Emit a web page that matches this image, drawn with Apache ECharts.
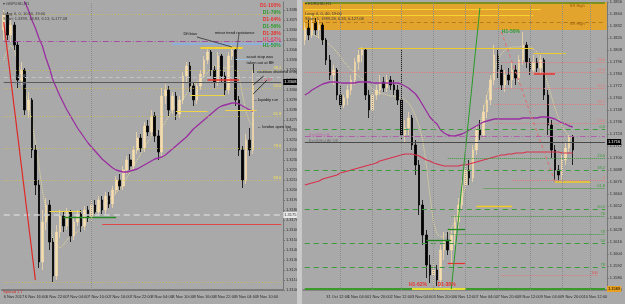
<!DOCTYPE html>
<html><head><meta charset="utf-8">
<script src="https://cdn.jsdelivr.net/npm/echarts/dist/echarts.min.js"></script>
<style>html,body{margin:0;padding:0;background:#a9a9a9;overflow:hidden}#c{width:625px;height:304px}</style>
</head><body><div id="c"></div><script>
// ---------- LEFT PANEL DATA (GBPUSD,H1) ----------
const leftBarCount = 80;
const leftTimeLabels = ['6 Nov 2017','6 Nov 16:00','6 Nov 22:00','7 Nov 04:00','7 Nov 10:00','7 Nov 16:00','7 Nov 22:00','8 Nov 04:00','8 Nov 10:00','8 Nov 16:00','8 Nov 22:00','9 Nov 04:00','9 Nov 10:00','9 Nov 16:00'];
// [open, close, low, high]
const leftCandles = [
[1.3360,1.3375,1.3350,1.3380],[1.3375,1.3355,1.3350,1.3378],[1.3355,1.3365,1.3348,1.3370],[1.3365,1.3345,1.3340,1.3368],
[1.3345,1.3310,1.3302,1.3348],[1.3310,1.3320,1.3305,1.3328],[1.3320,1.3280,1.3275,1.3322],[1.3280,1.3290,1.3272,1.3298],
[1.3290,1.3240,1.3232,1.3292],[1.3240,1.3205,1.3195,1.3245],[1.3205,1.3128,1.3122,1.3210],[1.3128,1.3168,1.3120,1.3180],
[1.3168,1.3185,1.3160,1.3192],[1.3185,1.3148,1.3140,1.3190],[1.3148,1.3114,1.3108,1.3152],[1.3114,1.3158,1.3110,1.3165],
[1.3158,1.3174,1.3152,1.3180],[1.3174,1.3164,1.3158,1.3178],[1.3164,1.3178,1.3160,1.3182],[1.3178,1.3154,1.3148,1.3180],
[1.3154,1.3168,1.3150,1.3172],[1.3168,1.3176,1.3164,1.3180],[1.3176,1.3164,1.3158,1.3180],[1.3164,1.3180,1.3160,1.3184],
[1.3180,1.3172,1.3168,1.3184],[1.3172,1.3185,1.3168,1.3190],[1.3185,1.3178,1.3174,1.3190],[1.3178,1.3190,1.3174,1.3194],
[1.3190,1.3180,1.3176,1.3194],[1.3180,1.3194,1.3176,1.3198],[1.3194,1.3186,1.3182,1.3198],[1.3186,1.3200,1.3182,1.3204],
[1.3200,1.3210,1.3196,1.3214],[1.3210,1.3204,1.3200,1.3216],[1.3204,1.3220,1.3200,1.3224],[1.3220,1.3230,1.3216,1.3234],
[1.3230,1.3224,1.3220,1.3236],[1.3224,1.3240,1.3220,1.3244],[1.3240,1.3252,1.3236,1.3258],[1.3252,1.3242,1.3238,1.3256],
[1.3242,1.3264,1.3238,1.3268],[1.3264,1.3258,1.3254,1.3270],[1.3258,1.3274,1.3254,1.3280],[1.3274,1.3254,1.3248,1.3278],
[1.3254,1.3238,1.3230,1.3260],[1.3238,1.3294,1.3232,1.3302],[1.3294,1.3300,1.3286,1.3306],[1.3300,1.3280,1.3274,1.3304],
[1.3280,1.3294,1.3276,1.3298],[1.3294,1.3276,1.3270,1.3298],[1.3276,1.3290,1.3272,1.3294],[1.3290,1.3314,1.3286,1.3318],
[1.3314,1.3324,1.3308,1.3328],[1.3324,1.3304,1.3298,1.3328],[1.3304,1.3290,1.3284,1.3308],[1.3290,1.3304,1.3286,1.3308],
[1.3304,1.3316,1.3300,1.3320],[1.3316,1.3330,1.3312,1.3334],[1.3330,1.3338,1.3326,1.3342],[1.3338,1.3320,1.3314,1.3340],
[1.3320,1.3308,1.3302,1.3324],[1.3308,1.3334,1.3304,1.3338],[1.3334,1.3314,1.3308,1.3336],[1.3314,1.3300,1.3294,1.3318],
[1.3300,1.3334,1.3296,1.3338],[1.3334,1.3340,1.3330,1.3345],[1.3340,1.3290,1.3284,1.3342],[1.3290,1.3240,1.3234,1.3294],
[1.3240,1.3210,1.3202,1.3244],[1.3210,1.3250,1.3206,1.3256],[1.3250,1.3240,1.3234,1.3262],[1.3240,1.3308,1.3236,1.3320]
];
const leftMA = [null,null,null,null,null,1.3398,1.3388,1.3380,1.3370,1.3362,1.3352,1.3344,1.3332,1.3322,1.3310,1.3302,
1.3294,1.3287,1.3280,1.3274,1.3268,1.3262,1.3257,1.3252,1.3247,1.3243,1.3239,1.3235,1.3231,1.3228,1.3225,1.3222,
1.3220,1.3219,1.3218,1.3218,1.3219,1.3220,1.3221,1.3223,1.3225,1.3227,1.3229,1.3231,1.3232,1.3233,1.3235,1.3238,
1.3241,1.3244,1.3247,1.3250,1.3253,1.3257,1.3261,1.3264,1.3267,1.3270,1.3273,1.3276,1.3279,1.3282,1.3284,1.3285,
1.3286,1.3287,1.3287,1.3286,1.3284,1.3282,1.3280,1.3279];
const leftSmooth = [1.3330,1.3340,1.3345,1.3340,1.3328,1.3315,1.3300,1.3285,1.3268,1.3248,1.3225,1.3200,1.3180,1.3165,
1.3152,1.3145,1.3142,1.3145,1.3150,1.3154,1.3156,1.3158,1.3162,1.3166,1.3170,1.3174,1.3178,1.3182,1.3185,1.3188,
1.3190,1.3193,1.3197,1.3201,1.3206,1.3212,1.3218,1.3224,1.3230,1.3236,1.3242,1.3248,1.3253,1.3257,1.3259,1.3262,
1.3268,1.3274,1.3280,1.3284,1.3287,1.3291,1.3296,1.3302,1.3306,1.3308,1.3310,1.3313,1.3317,1.3322,1.3324,1.3324,
1.3323,1.3322,1.3322,1.3324,1.3323,1.3314,1.3295,1.3278,1.3268,1.3264];
const leftFibLevels = [1.3376,1.3320,1.3302,1.3274,1.3242,1.3210,1.3108];
const leftFibTags = ['','38.2','50.0','61.8','78.6','88.6',''];
const leftCurrentPrice = 1.3308;
const leftWhiteLevel = 1.3175;

// ---------- RIGHT PANEL DATA (EURUSD,H1) ----------
const rightBarCount = 85;
const rightTimeLabels = ['30 Oct 2017','31 Oct 12:00','1 Nov 04:00','1 Nov 20:00','2 Nov 12:00','3 Nov 04:00','3 Nov 20:00','6 Nov 12:00','7 Nov 04:00','7 Nov 20:00','8 Nov 12:00','9 Nov 04:00','9 Nov 20:00','10 Nov 12:00','13 Nov 04:00'];
const rightCandles = [
[1.1818,1.1830,1.1813,1.1836],[1.1830,1.1823,1.1818,1.1838],[1.1823,1.1836,1.1820,1.1843],[1.1836,1.1828,1.1823,1.1840],
[1.1828,1.1833,1.1820,1.1838],[1.1833,1.1818,1.1813,1.1836],[1.1818,1.1798,1.1793,1.1820],[1.1798,1.1783,1.1778,1.1803],
[1.1783,1.1788,1.1773,1.1793],[1.1788,1.1763,1.1758,1.1790],[1.1763,1.1753,1.1748,1.1773],[1.1753,1.1760,1.1750,1.1763],
[1.1760,1.1768,1.1753,1.1773],[1.1768,1.1778,1.1763,1.1783],[1.1778,1.1796,1.1773,1.1800],[1.1796,1.1803,1.1788,1.1808],
[1.1803,1.1808,1.1796,1.1811],[1.1808,1.1763,1.1758,1.1810],[1.1763,1.1748,1.1740,1.1768],[1.1748,1.1763,1.1746,1.1766],
[1.1763,1.1768,1.1758,1.1773],[1.1768,1.1776,1.1763,1.1783],[1.1776,1.1770,1.1766,1.1781],[1.1770,1.1778,1.1766,1.1783],
[1.1778,1.1773,1.1768,1.1782],[1.1773,1.1768,1.1763,1.1778],[1.1768,1.1758,1.1753,1.1773],[1.1758,1.1723,1.1718,1.1810],
[1.1723,1.1730,1.1716,1.1738],[1.1730,1.1740,1.1723,1.1746],[1.1740,1.1713,1.1708,1.1743],[1.1713,1.1693,1.1683,1.1718],
[1.1693,1.1653,1.1643,1.1698],[1.1653,1.1623,1.1613,1.1658],[1.1623,1.1593,1.1580,1.1628],[1.1593,1.1583,1.1575,1.1603],
[1.1583,1.1588,1.1573,1.1596],[1.1588,1.1578,1.1572,1.1593],[1.1578,1.1608,1.1571,1.1613],[1.1608,1.1618,1.1598,1.1626],
[1.1618,1.1608,1.1603,1.1626],[1.1608,1.1623,1.1593,1.1630],[1.1623,1.1636,1.1613,1.1643],[1.1636,1.1653,1.1628,1.1660],
[1.1653,1.1673,1.1648,1.1678],[1.1673,1.1688,1.1668,1.1693],[1.1688,1.1680,1.1673,1.1698],[1.1680,1.1708,1.1676,1.1713],
[1.1708,1.1728,1.1703,1.1733],[1.1728,1.1723,1.1718,1.1738],[1.1723,1.1746,1.1720,1.1753],[1.1746,1.1758,1.1740,1.1763],
[1.1758,1.1778,1.1753,1.1783],[1.1778,1.1803,1.1773,1.1813],[1.1803,1.1788,1.1780,1.1808],[1.1788,1.1773,1.1768,1.1793],
[1.1773,1.1783,1.1766,1.1788],[1.1783,1.1778,1.1773,1.1790],[1.1778,1.1788,1.1770,1.1796],[1.1788,1.1780,1.1773,1.1793],
[1.1780,1.1798,1.1776,1.1803],[1.1798,1.1813,1.1793,1.1826],[1.1813,1.1796,1.1790,1.1816],[1.1796,1.1788,1.1783,1.1800],
[1.1788,1.1796,1.1783,1.1803],[1.1796,1.1790,1.1786,1.1800],[1.1790,1.1798,1.1783,1.1803],[1.1798,1.1763,1.1758,1.1800],
[1.1763,1.1733,1.1723,1.1768],[1.1733,1.1708,1.1700,1.1738],[1.1708,1.1688,1.1678,1.1713],[1.1688,1.1683,1.1676,1.1693],
[1.1683,1.1698,1.1678,1.1703],[1.1698,1.1710,1.1693,1.1716],[1.1710,1.1721,1.1706,1.1723],[1.1721,1.1708,1.1693,1.1723]
];
const rightMA = [1.1763,1.1765,1.1768,1.1770,1.1772,1.1774,1.1775,1.1776,1.1776,1.1776,1.1775,1.1775,1.1775,1.1775,1.1775,
1.1776,1.1776,1.1776,1.1776,1.1775,1.1775,1.1775,1.1775,1.1775,1.1775,1.1775,1.1775,1.1774,1.1772,1.1770,1.1767,1.1764,
1.1759,1.1753,1.1747,1.1741,1.1737,1.1734,1.1728,1.1725,1.1723,1.1722,1.1722,1.1723,1.1724,1.1726,1.1728,1.1730,1.1732,
1.1734,1.1736,1.1737,1.1738,1.1739,1.1739,1.1739,1.1739,1.1739,1.1739,1.1739,1.1739,1.1740,1.1740,1.1740,1.1740,1.1740,
1.1741,1.1741,1.1741,1.1740,1.1739,1.1737,1.1735,1.1734,1.1732,1.1731];
const rightSlowMA = [1.1673,1.1674,1.1675,1.1676,1.1677,1.1679,1.1680,1.1681,1.1682,1.1683,1.1685,1.1686,1.1687,1.1688,
1.1689,1.1690,1.1691,1.1692,1.1693,1.1694,1.1695,1.1697,1.1698,1.1699,1.1700,1.1701,1.1702,1.1703,1.1704,1.1704,1.1704,
1.1703,1.1702,1.1700,1.1698,1.1697,1.1695,1.1694,1.1693,1.1692,1.1692,1.1692,1.1692,1.1692,1.1693,1.1693,1.1694,1.1695,
1.1696,1.1697,1.1698,1.1699,1.1700,1.1701,1.1702,1.1703,1.1703,1.1704,1.1704,1.1705,1.1705,1.1705,1.1706,1.1706,1.1706,
1.1706,1.1706,1.1706,1.1706,1.1706,1.1706,1.1706,1.1705,1.1705,1.1705,1.1705];
const rightSmooth = [1.1823,1.1824,1.1824,1.1822,1.1820,1.1818,1.1816,1.1813,1.1810,1.1806,1.1801,1.1796,1.1792,1.1788,
1.1785,1.1782,1.1779,1.1776,1.1772,1.1769,1.1767,1.1765,1.1764,1.1763,1.1762,1.1762,1.1761,1.1760,1.1758,1.1755,1.1750,
1.1742,1.1732,1.1718,1.1693,1.1663,1.1636,1.1624,1.1621,1.1622,1.1625,1.1630,1.1636,1.1646,1.1658,1.1673,1.1688,1.1703,
1.1718,1.1733,1.1748,1.1763,1.1776,1.1788,1.1798,1.1804,1.1808,1.1810,1.1811,1.1811,1.1811,1.1812,1.1812,1.1811,1.1809,
1.1806,1.1796,1.1786,1.1774,1.1762,1.1750,1.1740,1.1732,1.1726,1.1722,1.1719];
const rightBand = [1.1856,1.1828];
const rightCurrentPrice = 1.1716;
const rightLowLevel = 1.1569;
const rightGridIdx = [10,19,27,36,45,54,63,72,80];

// ---------- helpers (styles only) ----------
const F = 'Liberation Sans';
const LL = leftBarCount - 1, RL = rightBarCount - 1;
const noLbl = {show:false};
function tagLbl(t,c){return t?{show:true,position:'insideEndTop',formatter:t,color:c,fontSize:4,distance:0,fontFamily:F}:noLbl;}
function hSeg(p,a,b,color,type,width,tag,tc){return [{coord:[a,p],lineStyle:{color,type,width},label:tagLbl(tag,tc||color)},{coord:[b,p]}];}
function seg2(a,pa,b,pb,color,type,width){return [{coord:[a,pa],lineStyle:{color,type,width},label:noLbl},{coord:[b,pb]}];}
function box(p,last,line,bg,fg,type,width){return [{coord:[0,p],lineStyle:{color:line,type:type||'solid',width:width||1.2},
  label:{show:true,position:'end',formatter:p.toFixed(4),backgroundColor:bg,color:fg,fontSize:4,padding:[1,1],distance:2,fontFamily:F}},{coord:[last,p]}];}
function vl(i){return {xAxis:i,lineStyle:{color:'#8c8c8c',type:'dotted',width:1},label:noLbl};}
function txt(i,p,t,color,size,bold,pos){return {coord:[i,p],name:t,symbol:'rect',symbolSize:1,itemStyle:{color:'rgba(0,0,0,0)'},
  label:{show:true,position:pos||'right',formatter:t,color:color,fontSize:size,fontWeight:bold?'bold':'normal',distance:0,fontFamily:F}};}
const YEL='#ecd445', GRN='#3f9a3f', PNK='#e07a7a', RED='#e8322f';

// ---------- left markers ----------
const leftLines = [];
leftFibLevels.forEach((p,k)=>leftLines.push(hSeg(p,0,LL,'#cdbf52',[1,2],0.9,leftFibTags[k],'#f0e060')));
leftLines.push(hSeg(1.3349,0,LL,'#a44fa0',[6,2,1,2],1));
leftLines.push(hSeg(1.3346,48,LL,'#8eaedb','solid',2));
leftLines.push(hSeg(1.3342,56,68,'#f2d230','solid',2));
leftLines.push(hSeg(1.3313,0,LL,'#c4c4c4',[4,3],1));
leftLines.push(box(leftCurrentPrice,LL,'#5a5a5a','#000','#fff'));
leftLines.push(hSeg(1.3310,58,67,RED,'solid',1.5));
leftLines.push(hSeg(1.3295,53,63,YEL,'solid',1));
leftLines.push(hSeg(1.3279,49,58,YEL,'solid',1));
leftLines.push(hSeg(1.3280,63,72,YEL,'solid',1));
leftLines.push(hSeg(1.3331,66,70,'#9cc0e0','solid',1));
leftLines.push(box(leftWhiteLevel,LL,'#d4d4d4','#e8e8e8','#333',[6,4],1.5));
leftLines.push(hSeg(1.3179,13,22,YEL,'solid',1));
leftLines.push(hSeg(1.3173,17,32,'#2a8a2a','solid',1.3));
leftLines.push(hSeg(1.3166,28,LL,'#e04848','solid',1.2));
leftLines.push(vl(25));
leftLines.push(seg2(0,1.3368,9,1.3110,'#e02828','solid',1.2));
leftLines.push(seg2(55,1.3353,65,1.3343,'#222','solid',0.7));
leftLines.push(seg2(67,1.3357,66,1.3331,'#333','solid',0.7));
leftLines.push(seg2(71,1.3317,71,1.3326,'#111','solid',0.8));
leftLines.push(seg2(71,1.3305,74,1.3314,'#111','solid',0.8));
leftLines.push(seg2(71,1.3296,75,1.3310,'#111','solid',0.8));
const leftTexts = [
  txt(79,1.3384,'D1-100%',RED,5,true,'left'), txt(79,1.3377,'D1-79%','#2f9a2f',5,true,'left'),
  txt(79,1.3370,'D1-64%',RED,5,true,'left'), txt(79,1.3363,'D1-56%','#2f9a2f',5,true,'left'),
  txt(79,1.3356,'D1-38%',RED,5,true,'left'), txt(79,1.3350,'H1-62%','#e04a6a',5,true,'left'),
  txt(79,1.3344,'H1-50%','#2f9a2f',5,true,'left'),
  txt(51,1.3356,'Dft bias','#111',4), txt(60,1.3357,'minor trend resistance','#111',4),
  txt(69,1.3333,'scout stop was','#111',4), txt(69,1.3327,'taken out at BE','#111',4),
  txt(72,1.3318,'cautious dividend entry','#111',4), txt(73,1.3310,'+ 2.4?','#e04a6a',4),
  txt(71,1.3290,'\u2190liquidity run','#111',4), txt(72,1.3263,'\u2190 london open bar','#111',4),
  txt(3,1.3314,'Cal 5R','#7f8fa0',4), txt(3,1.3306,'Cal 5R','#7f8fa0',4)
];

// ---------- right markers ----------
const rightLines = [];
rightLines.push(hSeg(1.1855,0,RL,'#5a8a1a','solid',1.5));
rightLines.push(hSeg(1.1849,0,66,'#f5d431','solid',1.2));
rightLines.push(hSeg(1.1843,0,64,'#f5d431','solid',1.2));
rightLines.push(hSeg(1.1836,0,RL,'#b47c1c',[4,3],1));
rightLines.push(hSeg(1.1810,15,64,'#f0cc2a','solid',1.2));
rightLines.push(hSeg(1.1805,64,73,'#f0cc2a','solid',1.2));
rightLines.push(hSeg(1.1796,55,RL,PNK,'dotted',1,'78.6'));
rightLines.push(hSeg(1.1786,0,RL,PNK,'dotted',1,'61.8'));
rightLines.push(hSeg(1.1770,53,RL,PNK,'dotted',1,'50.0'));
rightLines.push(hSeg(1.1754,53,RL,PNK,'dotted',1,'38.2'));
rightLines.push(hSeg(1.1735,53,RL,PNK,'dotted',1,'23.6'));
rightLines.push(hSeg(1.1784,64,70,RED,'solid',1.5));
rightLines.push(hSeg(1.1729,0,RL,GRN,[5,4],1,'0.0','#3a9a3a'));
rightLines.push(hSeg(1.1722,0,RL,'#b060a8',[6,2,1,2],1));
rightLines.push(box(rightCurrentPrice,RL,'#4a4a4a','#000','#fff'));
rightLines.push(hSeg(1.1700,40,RL,GRN,'dotted',1,'23.6'));
rightLines.push(hSeg(1.1688,0,RL,GRN,[5,4],1,'38.2'));
rightLines.push(hSeg(1.1678,58,RL,PNK,'dotted',1,'0'));
rightLines.push(hSeg(1.1676,70,80,'#f0cc2a','solid',1.5));
rightLines.push(hSeg(1.1670,50,RL,GRN,'dotted',1,'61.8'));
rightLines.push(hSeg(1.1649,0,RL,GRN,[5,4],1,'50.0'));
rightLines.push(hSeg(1.1642,41,RL,GRN,'dotted',1,'76'));
rightLines.push(hSeg(1.1624,41,RL,GRN,'dotted',1,'78'));
rightLines.push(hSeg(1.1615,0,RL,GRN,[5,4],1,'50'));
rightLines.push(hSeg(1.1591,0,RL,GRN,[5,4],1,'78'));
rightLines.push(hSeg(1.1583,55,82,PNK,'dotted',1,'100','#e05050'));
rightLines.push(box(rightLowLevel,RL,'#3c9a2a','#e8a020','#000','solid',2));
rightLines.push(hSeg(1.1618,34,41,'#1e8a1e','solid',1.3));
rightLines.push(hSeg(1.1629,40,45,'#1e8a1e','solid',1.3));
rightLines.push(hSeg(1.1595,40,45,RED,'solid',1.2));
rightLines.push(hSeg(1.1652,48,58,'#f0cc2a','solid',1.3));
rightLines.push(hSeg(1.1569,30,45,'#e6e030','solid',2));
rightLines.push(seg2(41,1.1569,49,1.1850,'#2a9a2a','solid',1));
rightLines.push(seg2(55,1.1826,70,1.1676,'#e06a6a',[3,3],1));
rightGridIdx.forEach(i=>rightLines.push(vl(i)));
const rightTexts = [
  txt(55,1.1826,'H1-50%','#2f9a2f',5,true), txt(29,1.1573,'H1-62%',RED,5,true), txt(37,1.1573,'D1-38%',RED,5,true),
  txt(74,1.1852,'SR High','#9a5a10',4), txt(74,1.1834,'SR High','#9a5a10',4), txt(74,1.1566,'SR Low','#c08020',4),
  txt(1,1.1723,'ExpStHal A','#c070b0',4), txt(1,1.1717,'ExpStHal Alt 5/8','#707070',4)
];

const axisLbl = {fontSize:4,color:'#2a2a2a',fontFamily:F};
const option = {
  animation:false, backgroundColor:'#a9a9a9',
  grid:[{left:2,right:342,top:2,bottom:14},{left:303,right:17,top:2,bottom:14}],
  xAxis:[
    {type:'category',gridIndex:0,data:Array.from({length:leftBarCount},(_,i)=>i),boundaryGap:true,
     axisLine:{lineStyle:{color:'#7a7a7a',width:2}},axisTick:{show:false},splitLine:{show:false},
     axisLabel:Object.assign({interval:5,align:'left',margin:5,formatter:(v,i)=>leftTimeLabels[i/6]||''},axisLbl)},
    {type:'category',gridIndex:1,data:Array.from({length:rightBarCount},(_,i)=>i),boundaryGap:true,
     axisLine:{lineStyle:{color:'#7a7a7a',width:1.5}},axisTick:{show:false},splitLine:{show:false},
     axisLabel:Object.assign({interval:5,align:'left',margin:5,formatter:(v,i)=>rightTimeLabels[i/6]||''},axisLbl)}
  ],
  yAxis:[
    {type:'value',gridIndex:0,position:'right',min:1.3100,max:1.3388,interval:0.0010,scale:true,
     axisLine:{show:true,lineStyle:{color:'#777'}},axisTick:{show:true,length:2,lineStyle:{color:'#777'}},splitLine:{show:false},
     axisLabel:Object.assign({margin:3,showMaxLabel:false,formatter:v=>v.toFixed(4)},axisLbl)},
    {type:'value',gridIndex:1,position:'right',min:1.1568,max:1.1856,interval:0.0012,scale:true,
     axisLine:{show:true,lineStyle:{color:'#777'}},axisTick:{show:true,length:2,lineStyle:{color:'#777'}},splitLine:{show:false},
     axisLabel:Object.assign({margin:3,formatter:v=>v.toFixed(4)},axisLbl)}
  ],
  series:[
    {type:'line',xAxisIndex:0,yAxisIndex:0,data:leftSmooth,symbol:'none',silent:true,z:1,
     lineStyle:{color:'#e8dc98',type:'dotted',width:1}},
    {type:'candlestick',xAxisIndex:0,yAxisIndex:0,data:leftCandles,barWidth:2.2,z:2,silent:true,
     itemStyle:{color:'#f5deb3',color0:'#000',borderColor:'#f0d8a8',borderColor0:'#000',borderWidth:0.8}},
    {type:'line',xAxisIndex:0,yAxisIndex:0,data:leftMA,symbol:'none',silent:true,z:4,
     lineStyle:{color:'#9a2fa0',width:1.3},
     markLine:{silent:true,symbol:['none','none'],animation:false,label:noLbl,data:leftLines},
     markPoint:{silent:true,animation:false,data:leftTexts}},
    {type:'line',xAxisIndex:1,yAxisIndex:1,data:rightSmooth,symbol:'none',silent:true,z:1,
     lineStyle:{color:'#e8dc98',type:'dotted',width:1},
     markArea:{silent:true,itemStyle:{color:'#e2a42c'},data:[[{yAxis:rightBand[0]},{yAxis:rightBand[1]}]]}},
    {type:'candlestick',xAxisIndex:1,yAxisIndex:1,data:rightCandles,barWidth:2,z:2,silent:true,
     itemStyle:{color:'#f5deb3',color0:'#000',borderColor:'#f0d8a8',borderColor0:'#000',borderWidth:0.8}},
    {type:'line',xAxisIndex:1,yAxisIndex:1,data:rightSlowMA,symbol:'none',silent:true,z:3,
     lineStyle:{color:'#d8304e',width:1.2}},
    {type:'line',xAxisIndex:1,yAxisIndex:1,data:rightMA,symbol:'none',silent:true,z:4,
     lineStyle:{color:'#9a2fa0',width:1.3},
     markLine:{silent:true,symbol:['none','none'],animation:false,label:noLbl,data:rightLines},
     markPoint:{silent:true,animation:false,data:rightTexts}}
  ],
  graphic:[
    {type:'rect',left:297,top:0,shape:{width:5,height:304},style:{fill:'#c9c9c9'},z:10},
    {type:'text',left:3,top:2,style:{text:'\u25BE GBPUSD,H1',fontSize:4,fill:'#3a3a3a',fontFamily:F},z:10},
    {type:'text',left:3,top:12,style:{text:'Long: 0, 0, 10.60, 19:00',fontSize:4,fill:'#3a3a3a',fontFamily:F},z:10},
    {type:'text',left:3,top:17,style:{text:'Short: 1.3399, 18.83, 6.13, 6-177.08',fontSize:4,fill:'#3a3a3a',fontFamily:F},z:10},
    {type:'text',left:305,top:2,style:{text:'\u25BE EURUSD,H1',fontSize:4,fill:'#3a3a3a',fontFamily:F},z:10},
    {type:'text',left:305,top:12,style:{text:'Long: 0, 0, 40, 19:00',fontSize:4,fill:'#3a3a3a',fontFamily:F},z:10},
    {type:'text',left:305,top:17,style:{text:'Short: 1, 1999.28, 6.33, 6-127.08',fontSize:4,fill:'#3a3a3a',fontFamily:F},z:10},
    {type:'text',left:3,top:290,style:{text:'Spread 1.7',fontSize:4,fill:'#d03030',fontFamily:F},z:10}
  ]
};
const chart = echarts.init(document.getElementById('c'),null,{renderer:'canvas'});
chart.setOption(option);
</script></body></html>
